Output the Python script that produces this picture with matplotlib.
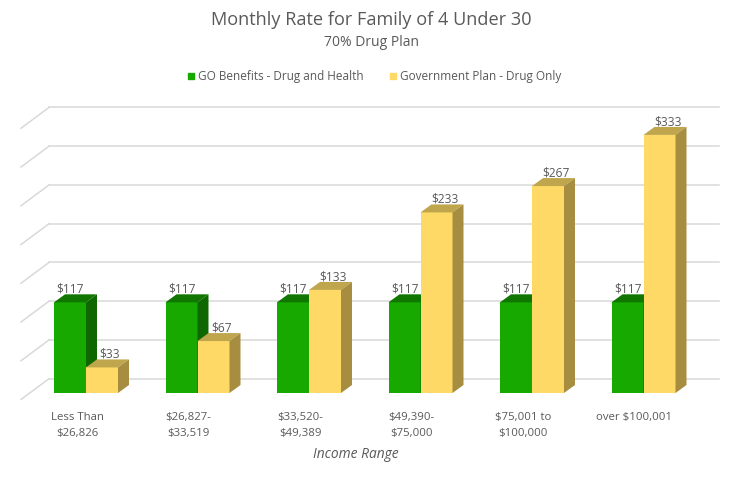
import matplotlib
matplotlib.use('Agg')
import matplotlib.pyplot as plt
from matplotlib.lines import Line2D

plt.rcParams['font.family'] = ['Open Sans', 'DejaVu Sans']

# data
categories = ['Less Than\n$26,826', '$26,827-\n$33,519', '$33,520-\n$49,389',
              '$49,390-\n$75,000', '$75,001 to\n$100,000', 'over $100,001']
go_benefits = [117, 117, 117, 117, 117, 117]
gov_plan = [33, 67, 133, 233, 267, 333]
grid_values = [0, 50, 100, 150, 200, 250, 300, 350]

text_col = '#595959'
grid_col = '#D9D9D9'

# one x unit is one category = 111.5px, one y unit = 0.775px
px_x = 1 / 111.5
px_y = 1 / 0.775
bar_w = 32 * px_x
depth_x = 11 * px_x
depth_y = 8 * px_y


def draw_bars(ax, xs, vals, front, top, side):
    ax.bar(xs, vals, width=bar_w, align='edge', color=front, linewidth=0, zorder=3)
    for x, v in zip(xs, vals):
        ax.fill([x, x + bar_w, x + bar_w + depth_x, x + depth_x],
                [v, v, v + depth_y, v + depth_y], color=top, linewidth=0, zorder=3)
        ax.fill([x + bar_w, x + bar_w + depth_x, x + bar_w + depth_x, x + bar_w],
                [0, depth_y, v + depth_y, v], color=side, linewidth=0, zorder=3)


fig = plt.figure(figsize=(7.45, 4.79), dpi=100)
ax = fig.add_axes([0, 0, 1, 1])
ax.set_xlim(-86 * px_x, 659 * px_x)
ax.set_ylim(-86 * px_y, 393 * px_y)
ax.axis('off')

# back wall lines and the slanted ones on the left
wall_x0 = -37 * px_x
wall_x1 = 633 * px_x
wall_y = 14.3 * px_y
for g in grid_values:
    ax.plot([wall_x0, wall_x1], [g + wall_y, g + wall_y], color=grid_col, lw=1.1, zorder=1)
    ax.plot([-65 * px_x, wall_x0], [g - 6.5 * px_y, g + wall_y], color=grid_col, lw=1.1, zorder=1)

xs_go = [i - bar_w for i in range(len(categories))]
xs_gov = [i for i in range(len(categories))]
for i in range(len(categories)):
    draw_bars(ax, [xs_go[i]], [go_benefits[i]], '#17A900', '#107600', '#0E6800')
    draw_bars(ax, [xs_gov[i]], [gov_plan[i]], '#FFD966', '#BFA64D', '#A68D40')

for x, v in zip(xs_go, go_benefits):
    ax.text(x + bar_w / 2, v + 17, '$%d' % v, ha='center', va='center',
            fontsize=8.6, color=text_col, zorder=5)
for x, v in zip(xs_gov, gov_plan):
    ax.text(x + bar_w / 2 + 8 * px_x, v + 17, '$%d' % v, ha='center', va='center',
            fontsize=8.6, color=text_col, zorder=5)

for i, lab in enumerate(categories):
    ax.text(i - 9 * px_x, -19 * px_y, lab, ha='center', va='top',
            fontsize=8.2, color=text_col, linespacing=1.65)

fig.text(356 / 745, 1 - 454 / 479, 'Income Range', ha='center', va='center',
         fontsize=9.9, style='italic', color=text_col)
fig.text(371 / 745, 1 - 20 / 479, 'Monthly Rate for Family of 4 Under 30', ha='center',
         va='center', fontsize=13.1, color=text_col)
fig.text(371 / 745, 1 - 42 / 479, '70% Drug Plan', ha='center', va='center',
         fontsize=10, color=text_col)

handles = [Line2D([], [], linestyle='', marker='s', markersize=5, color='#17A900'),
           Line2D([], [], linestyle='', marker='s', markersize=5, color='#FFD966')]
fig.legend(handles, ['GO Benefits - Drug and Health', 'Government Plan - Drug Only'],
           loc='center', bbox_to_anchor=(374.5 / 745, 1 - 76.5 / 479), ncol=2, frameon=False,
           fontsize=8.45, labelcolor=text_col, handlelength=0.6, handletextpad=0.3, columnspacing=2.2)

fig.savefig('out.png', dpi=100)
